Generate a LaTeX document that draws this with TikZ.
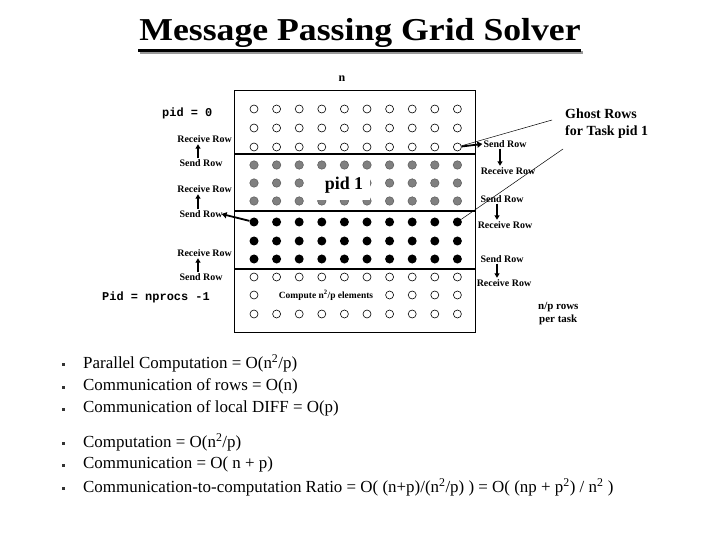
\documentclass[tikz,border=0pt]{standalone}
\usepackage{fontspec}
\setmainfont{Liberation Serif}
\setmonofont{Liberation Mono}
\usetikzlibrary{arrows.meta}
\begin{document}
\begin{tikzpicture}[x=1bp,y=-1bp,
  lbl/.style={font=\fontsize{10}{12}\selectfont\bfseries, inner sep=0},
  mono/.style={font=\fontsize{12}{14}\selectfont\ttfamily\bfseries, anchor=west, inner sep=0},
  wc/.style={circle,draw=black,fill=white,line width=0.6bp,minimum size=8bp,inner sep=0},
  gc/.style={circle,draw=black!65,fill=black!50,line width=0.5bp,minimum size=8.5bp,inner sep=0},
  bc/.style={circle,fill=black,minimum size=9bp,inner sep=0},
  sendarr/.style={line width=1.8bp,-{Triangle[length=5bp,width=6bp]}},
  vararr/.style={line width=1.3bp,-{Triangle[length=4.5bp,width=5bp]},shorten >=1.5bp,shorten <=1bp},
  ghost/.style={line width=0.5bp},
  bul/.style={font=\fontsize{17}{20}\selectfont, anchor=west, inner sep=0},
  bulsq/.style={fill=black!80, minimum size=3bp, inner sep=0},
  titlefont/.style={font=\fontsize{32}{36}\selectfont\bfseries, anchor=base, inner sep=0}
]
\useasboundingbox (0,0) rectangle (720,540);
\fill[white] (0,0) rectangle (720,540);

% title with underline and shadow
\fill[black!40] (140,51.5) rectangle (583,54.5);
\node[titlefont] (title) at (360,41) {\scalebox{1.12}[1]{Message Passing Grid Solver}};
\fill[black] (138,49) rectangle (581,52);

% n label
\node[font=\fontsize{12}{14}\selectfont\bfseries, inner sep=0] (nlab) at (342,79) {n};

% grid box and dividers
\draw[line width=1bp] (234,91) rectangle (475,332);
\foreach \yy in {154,211,269} \draw[line width=2bp] (234,\yy) -- (475,\yy);

% circles
\foreach \y/\r in {109/1,128/2,147/3,277/10,295/11,314/12}
  \foreach \c in {1,...,10}
    \node[wc] (c\r-\c) at ({254+22.6*(\c-1)},\y) {};
\foreach \y/\r in {165/4,183/5,201/6}
  \foreach \c in {1,...,10}
    \node[gc] (c\r-\c) at ({254+22.6*(\c-1)},\y) {};
\foreach \y/\r in {222/7,241/8,259/9}
  \foreach \c in {1,...,10}
    \node[bc] (c\r-\c) at ({254+22.6*(\c-1)},\y) {};

% pid 1 label covering circles
\fill[white] (317,172) rectangle (370,200.5);
\node[font=\fontsize{18}{20}\selectfont\bfseries, inner sep=0] (pid1) at (344,185) {pid 1};

% compute label covering circles
\fill[white] (271,289) rectangle (380,301);
\node[font=\fontsize{9.5}{11}\selectfont\bfseries, inner sep=0] (comp) at (326,295) {Compute n\textsuperscript{2}/p elements};

% left labels
\node[mono] (pid0) at (162,113) {pid = 0};
\node[mono] (pidn) at (102,297) {Pid = nprocs -1};

\node[lbl, anchor=east] (lr1) at (232,139) {Receive Row};
\node[lbl] (ls1) at (201,163) {Send Row};
\node[lbl, anchor=east] (lr2) at (232,189) {Receive Row};
\node[lbl] (ls2) at (201,214) {Send Row};
\node[lbl, anchor=east] (lr3) at (232,253) {Receive Row};
\node[lbl] (ls3) at (201,277) {Send Row};

\draw[vararr] ([xshift=-3bp]ls1.north) -- ([xshift=-3bp]ls1.north |- lr1.south);
\draw[vararr] ([xshift=-3bp]ls2.north) -- ([xshift=-3bp]ls2.north |- lr2.south);
\draw[vararr] ([xshift=-3bp]ls3.north) -- ([xshift=-3bp]ls3.north |- lr3.south);

% right labels
\node[lbl] (rs1) at (505,144) {Send Row};
\node[lbl] (rr1) at (508,171) {Receive Row};
\node[lbl] (rs2) at (502,199) {Send Row};
\node[lbl] (rr2) at (505,225) {Receive Row};
\node[lbl] (rs3) at (502,259) {Send Row};
\node[lbl] (rr3) at (504,283) {Receive Row};

\draw[vararr] ([xshift=-5bp]rs1.south) -- ([xshift=-5bp]rs1.south |- rr1.north);
\draw[vararr] ([xshift=-5bp]rs2.south) -- ([xshift=-5bp]rs2.south |- rr2.north);
\draw[vararr] ([xshift=-5bp]rs3.south) -- ([xshift=-5bp]rs3.south |- rr3.north);

% send arrows
\draw[sendarr] (c7-1) -- ([xshift=-1bp]ls2.east);
\draw[sendarr] (c3-10) -- ([xshift=-1bp]rs1.west);

% ghost rows
\node[font=\fontsize{14}{16}\selectfont\bfseries, anchor=west, inner sep=0] (gh1) at (565,114) {Ghost Rows};
\node[font=\fontsize{14}{16}\selectfont\bfseries, anchor=west, inner sep=0] (gh2) at (565,132) {for Task pid 1};
\coordinate (ga) at (552,120);
\coordinate (gb) at (563,149);
\draw[ghost] (ga) -- (c3-10);
\draw[ghost] (gb) -- (c7-10);

% n/p rows
\node[font=\fontsize{11}{13}\selectfont\bfseries, anchor=west, inner sep=0] (np1) at (538,307) {n/p rows};
\node[font=\fontsize{11}{13}\selectfont\bfseries, anchor=west, inner sep=0] (np2) at (539,320) {per task};

% bullets
\foreach \yy/\k in {364/1,387/2,409/3,443/4,465/5,488/6}
  \node[bulsq] (b\k) at (63,\yy) {};
\node[bul] (t1) at (83,363) {Parallel Computation = O(n\textsuperscript{2}/p)};
\node[bul] (t2) at (83,386) {Communication of rows = O(n)};
\node[bul] (t3) at (83,408) {Communication of local DIFF = O(p)};
\node[bul] (t4) at (83,442) {Computation = O(n\textsuperscript{2}/p)};
\node[bul] (t5) at (83,464) {Communication = O( n + p)};
\node[bul] (t6) at (83,487) {Communication-to-computation Ratio = O( (n+p)/(n\textsuperscript{2}/p) ) = O( (np + p\textsuperscript{2}) / n\textsuperscript{2} )};
\end{tikzpicture}
\end{document}
